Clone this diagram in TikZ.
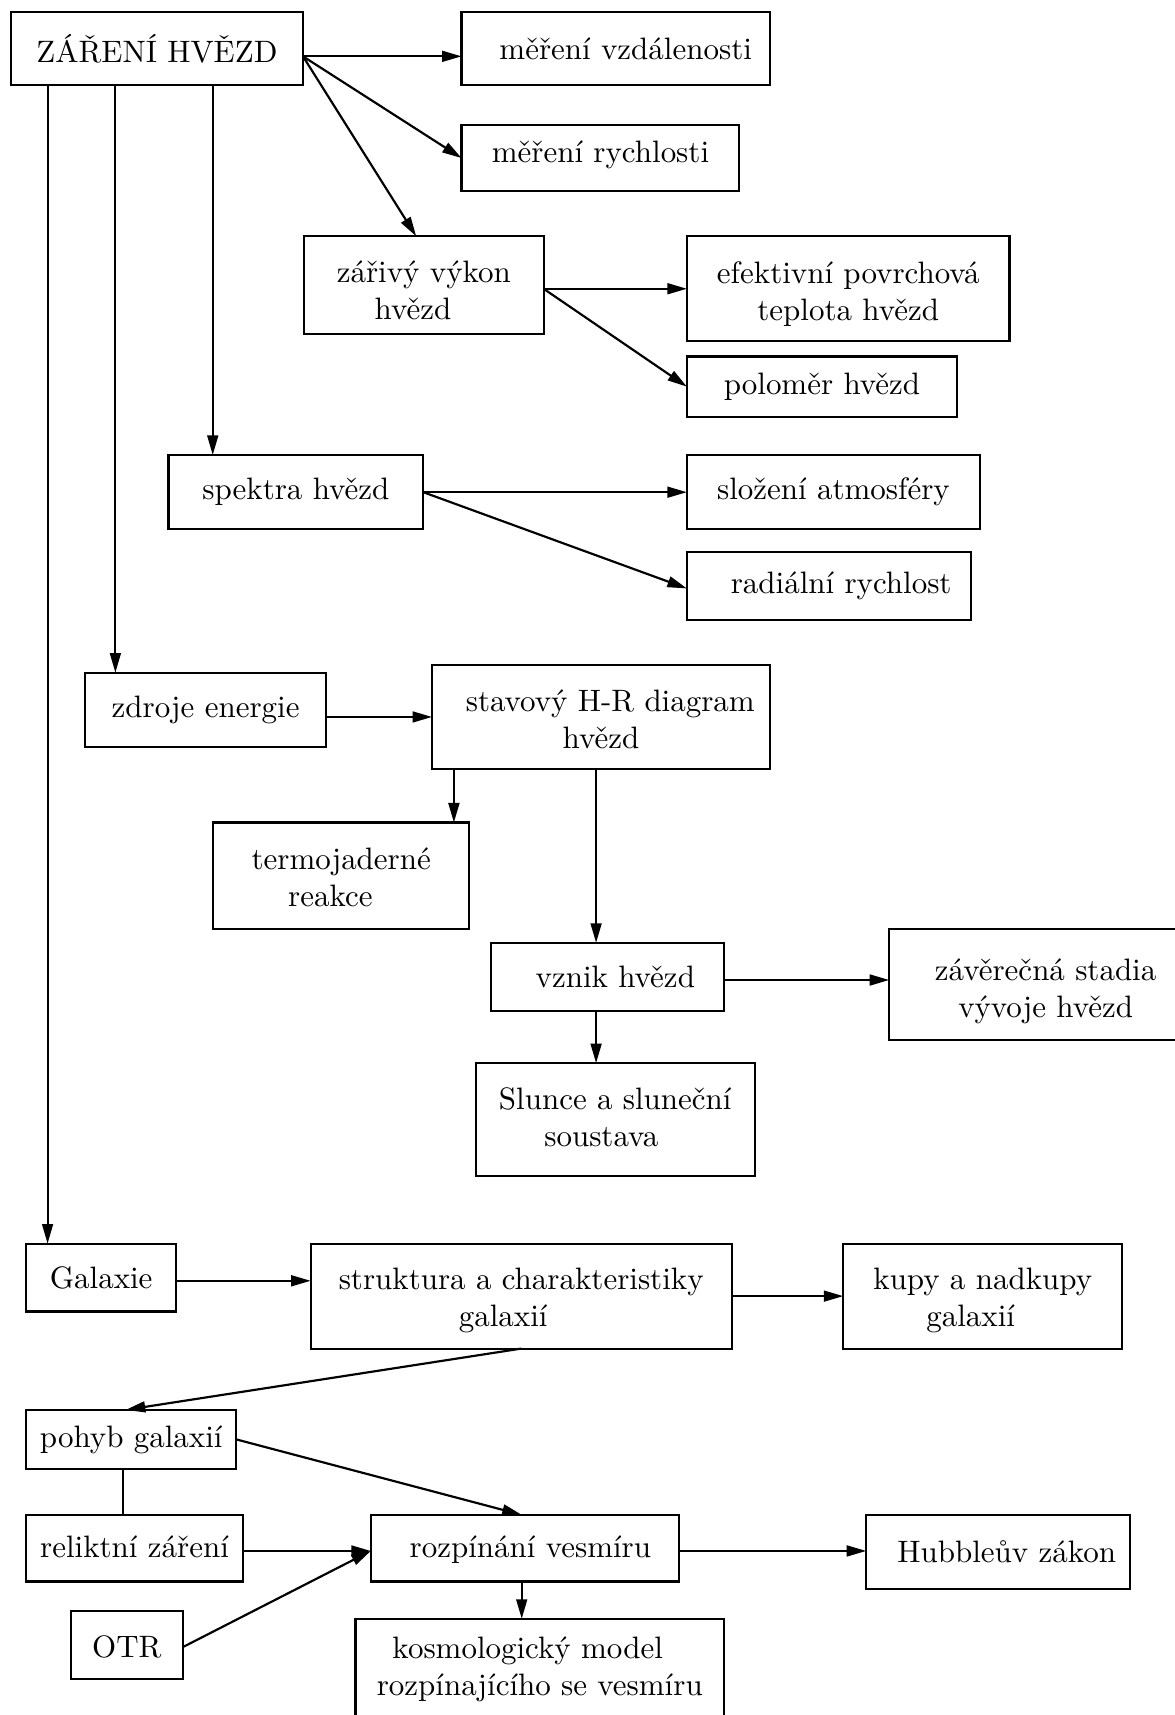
\documentclass[tikz,border=0pt]{standalone}
\usepackage{fontspec}
\usetikzlibrary{arrows.meta,calc}
\tikzset{
  box/.style={draw, line width=0.7pt, rectangle, inner sep=0pt, outer sep=0pt, align=center, font=\fontsize{10}{12}\selectfont},
  sz/.style 2 args={minimum width=#1*0.353pt, minimum height=#2*0.353pt},
  bl/.style={text height=#1, text depth=0pt},
  arr/.style={line width=0.7pt, -{Triangle[length=6.3pt,width=3.5pt]}},
  thinarr/.style={line width=0.6pt, -{Triangle[length=6.3pt,width=3.5pt]}},
  ln/.style={line width=0.6pt},
}
\begin{document}
\begin{tikzpicture}[x=0.353pt,y=-0.353pt]
\useasboundingbox (0,0) rectangle (1074,1568);
% nodes
\node[box, sz={267}{67}] (zar) at (143.5,44.5) {ZÁŘENÍ HVĚZD};
\node[box, sz={282}{67}] (vzd) at (563,44.5) {\hspace*{6.4pt}měření vzdálenosti};
\node[box, sz={254}{61}, bl=2.8pt] (ryc) at (549,144.5) {měření rychlosti};
\node[box, sz={219}{89}, bl=22.6pt] (vyk) at (387.5,260.5) {zářivý výkon\\hvězd\kern7pt};
\node[box, sz={295}{96}, bl=20.6pt] (efe) at (775.5,264) {efektivní povrchová\\teplota hvězd};
\node[box, sz={247}{55}] (pol) at (751.5,353.5) {poloměr hvězd};
\node[box, sz={233}{68}] (spe) at (270.5,450) {spektra hvězd};
\node[box, sz={268}{68}] (slo) at (762,450) {složení atmosféry};
\node[box, sz={260}{62}] (rad) at (758,536) {\hspace*{7.8pt}radiální rychlost};
\node[box, sz={220}{68}] (zdr) at (188,649) {zdroje energie};
\node[box, sz={309}{95}, bl=20.2pt] (hr) at (549.5,655.5) {\hspace*{6pt}stavový H-R diagram\\hvězd};
\node[box, sz={234}{97}, bl=20.2pt] (ter) at (312,800.5) {termojaderné\\reakce\kern7pt};
\node[box, sz={213}{62}] (vzn) at (555.5,893) {\hspace*{5pt}vznik hvězd};
\node[box, sz={286}{102}, bl=21.6pt] (zav) at (956,900) {závěrečná stadia\\vývoje hvězd};
\node[box, sz={255}{103}, bl=17.6pt] (slu) at (562.5,1023.5) {Slunce a sluneční\\soustava\kern9pt};
\node[box, sz={137}{62}] (gal) at (92.5,1168) {Galaxie};
\node[box, sz={385}{96}, bl=19.8pt] (str) at (476.5,1185) {struktura a charakteristiky\\galaxií\kern11.6pt};
\node[box, sz={255}{96}, bl=19.8pt] (kup) at (898.5,1185) {kupy a nadkupy\\galaxií\kern7.8pt};
\node[box, sz={192}{54}] (poh) at (120,1316) {pohyb galaxií};
\node[box, sz={198}{61}, bl=6pt] (rel) at (123,1415.5) {reliktní záření};
\node[box, sz={282}{61}, bl=6pt] (roz) at (480,1415.5) {\hspace*{3.5pt}rozpínání vesmíru};
\node[box, sz={241}{68}] (hub) at (912.5,1419) {\hspace*{5.6pt}Hubbleův zákon};
\node[box, sz={102}{62}, bl=8pt] (otr) at (116,1504) {OTR};
\node[box, sz={337}{90}, bl=17.8pt] (kos) at (493.5,1525) {kosmologický model\kern7.8pt\\rozpínajícího se vesmíru};
% helper coordinates
\coordinate (zs) at ($(zar.east)+(0,7)$);
\coordinate (vs) at (vyk.east |- efe.west);
\coordinate (v1) at ($(vzn.east)+(0,3)$);
\coordinate (g1) at ($(gal.east)+(0,3)$);
\coordinate (r1) at ($(rel.east)+(0,2.5)$);
\coordinate (r2) at ($(roz.east)+(0,2.5)$);
% connectors
\draw[arr] (zs) -- (zs -| vzd.west);
\draw[arr] (zs) -- (ryc.west);
\draw[arr] (zs) -- ($(vyk.north)+(-7,0)$);
\draw[thinarr] ($(zar.south west)+(33.5,0)$) -- ($(gal.north west)+(19.5,0)$);
\draw[thinarr] ($(zar.south west)+(95.5,0)$) -- ($(zdr.north west)+(27.5,0)$);
\draw[thinarr] ($(zar.south west)+(184.5,0)$) -- ($(spe.north west)+(40.5,0)$);
\draw[arr] (vs) -- (efe.west);
\draw[arr] (vs) -- (pol.west);
\draw[arr] (spe.east) -- (slo.west);
\draw[arr] (spe.east) -- ($(rad.west)+(0,2)$);
\draw[arr] (zdr.east |- hr.west) -- (hr.west);
\draw[arr] ($(hr.south west)+(20,0)$) -- ($(ter.north east)+(-14,0)$);
\draw[arr] ($(hr.south west)+(150,0)$) -- ($(vzn.north west)+(96,0)$);
\draw[arr] (v1) -- (v1 -| zav.west);
\draw[arr] ($(vzn.south west)+(96,0)$) -- ($(slu.north west)+(110,0)$);
\draw[arr] (g1) -- (g1 -| str.west);
\draw[arr] (str.east) -- (kup.west);
\draw[arr] (str.south) -- ($(poh.north)+(-5,0)$);
\draw[arr] (poh.east) -- ($(roz.north)+(-3,0)$);
\draw[ln] ($(poh.south west)+(88.5,0)$) -- ($(rel.north west)+(88.5,0)$);
\draw[arr] (r1) -- (r1 -| roz.west);
\draw[arr] ($(otr.east)+(0,2)$) -- ($(roz.west)+(0,2.5)$);
\draw[arr] (r2) -- (r2 -| hub.west);
\draw[arr] ($(roz.south)+(-3,0)$) -- ($(kos.north)+(-16.5,0)$);
\end{tikzpicture}
\end{document}
